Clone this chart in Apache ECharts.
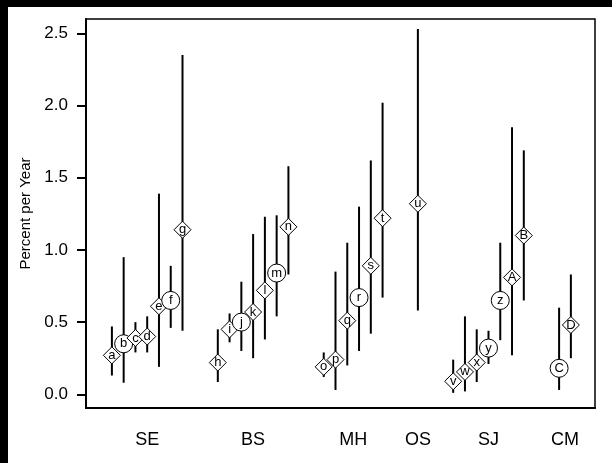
<!DOCTYPE html>
<html>
<head>
<meta charset="utf-8">
<script src="https://cdn.jsdelivr.net/npm/echarts@6/dist/echarts.min.js"></script>
<style>
  html, body { margin: 0; padding: 0; background: #fff; }
  #chart { width: 612px; height: 463px; }
</style>
</head>
<body>
<div id="chart"></div>
<script>
// study sites (group labels) and where they sit on the x scale
const groupNames = ["SE", "BS", "MH", "OS", "SJ", "CM"];
const groupCenters = [3, 12, 20.5, 26, 32, 38.5];

// one entry per estimate
const letters = ["a","b","c","d","e","f","g","h","i","j","k","l","m","n","o","p","q","r","s","t","u","v","w","x","y","z","A","B","C","D"];
const xPos = [0,1,2,3,4,5,6, 9,10,11,12,13,14,15, 18,19,20,21,22,23, 26, 29,30,31,32,33,34,35, 38,39];
const shapes = ["diamond","circle","diamond","diamond","diamond","circle","diamond",
  "diamond","diamond","circle","diamond","diamond","circle","diamond",
  "diamond","diamond","diamond","circle","diamond","diamond",
  "diamond",
  "diamond","diamond","diamond","circle","circle","diamond","diamond",
  "circle","diamond"];
const estimate = [0.27,0.35,0.39,0.40,0.61,0.65,1.14, 0.22,0.45,0.50,0.57,0.72,0.84,1.16, 0.19,0.24,0.51,0.67,0.89,1.22, 1.32, 0.09,0.155,0.22,0.32,0.65,0.81,1.10, 0.18,0.48];
const lower = [0.13,0.08,0.29,0.29,0.19,0.46,0.44, 0.085,0.36,0.30,0.25,0.38,0.54,0.83, 0.12,0.03,0.20,0.30,0.42,0.67, 0.58, 0.01,0.02,0.085,0.21,0.375,0.27,0.65, 0.03,0.25];
const upper = [0.47,0.95,0.50,0.54,1.39,0.89,2.35, 0.45,0.56,0.78,1.11,1.23,1.24,1.58, 0.29,0.85,1.05,1.30,1.62,2.02, 2.53, 0.24,0.54,0.45,0.44,1.05,1.85,1.69, 0.60,0.83];
const yTicks = [0, 0.5, 1.0, 1.5, 2.0, 2.5];

const font = "Liberation Sans, Arial, sans-serif";

const barData = xPos.map((x, i) => [x, lower[i], upper[i]]);
const pointData = xPos.map((x, i) => ({
  value: [x, estimate[i]],
  name: letters[i],
  symbol: shapes[i],
  symbolSize: shapes[i] === "circle" ? 18 : 17,
}));

const chart = echarts.init(document.getElementById("chart"));
chart.setOption({
  animation: false,
  backgroundColor: "#fff",
  graphic: [
    { type: "rect", left: 0, top: 0, shape: { width: 612, height: 7 }, style: { fill: "#000" } },
    { type: "rect", left: 0, top: 0, shape: { width: 8, height: 463 }, style: { fill: "#000" } },
  ],
  grid: {
    left: 86, top: 19, right: 17, bottom: 55,
    show: true, borderColor: "#000", borderWidth: 1.5,
  },
  xAxis: {
    type: "value",
    min: -2.2,
    max: 41.05,
    splitLine: { show: false },
    axisLine: { onZero: false, lineStyle: { color: "#000", width: 2 } },
    axisTick: { show: false },
    axisLabel: {
      customValues: groupCenters,
      formatter: (v) => groupNames[groupCenters.indexOf(v)] || "",
      color: "#000",
      fontFamily: font,
      fontSize: 18,
      margin: 23,
    },
  },
  yAxis: {
    type: "value",
    min: -0.095,
    max: 2.6,
    name: "Percent per Year",
    nameLocation: "middle",
    nameGap: 50,
    nameTextStyle: { color: "#000", fontFamily: font, fontSize: 15 },
    splitLine: { show: false },
    axisLine: { show: true, onZero: false, lineStyle: { color: "#000", width: 2 } },
    axisTick: { show: true, customValues: yTicks, length: 9, lineStyle: { color: "#000", width: 2 } },
    axisLabel: {
      customValues: yTicks,
      formatter: (v) => v.toFixed(1),
      color: "#000",
      fontFamily: font,
      fontSize: 17,
      margin: 18,
    },
  },
  series: [
    {
      type: "custom",
      data: barData,
      z: 2,
      renderItem: function (params, api) {
        const top = api.coord([api.value(0), api.value(2)]);
        const bot = api.coord([api.value(0), api.value(1)]);
        return {
          type: "line",
          shape: { x1: top[0], y1: top[1], x2: bot[0], y2: bot[1] },
          style: { stroke: "#000", lineWidth: 2 },
        };
      },
    },
    {
      type: "scatter",
      data: pointData,
      z: 3,
      itemStyle: { color: "#fff", borderColor: "#000", borderWidth: 1, opacity: 1 },
      label: {
        show: true,
        position: "inside",
        formatter: (p) => p.name,
        color: "#000",
        fontFamily: font,
        fontSize: 13,
      },
    },
  ],
});
</script>
</body>
</html>
